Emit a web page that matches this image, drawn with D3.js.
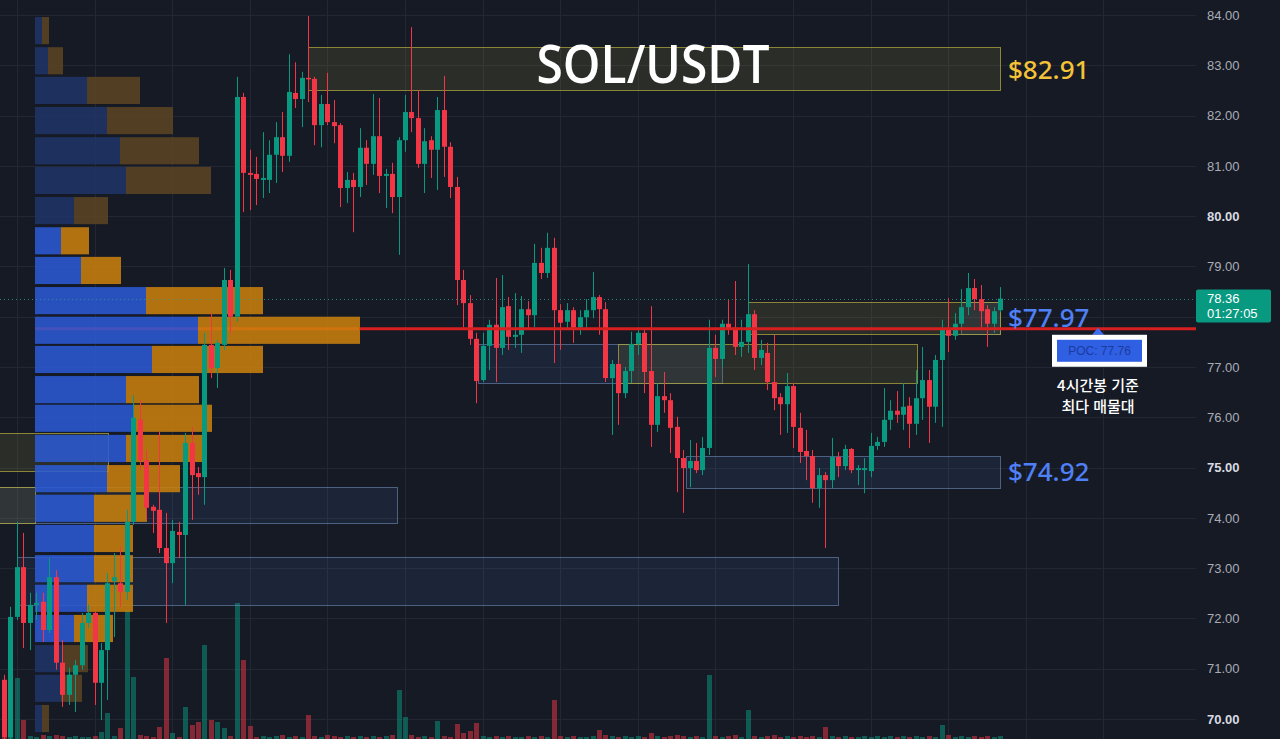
<!DOCTYPE html>
<html lang="ko">
<head>
<meta charset="UTF-8">
<title>SOL/USDT</title>
<script src="https://d3js.org/d3.v7.min.js"></script>
<style>
  html, body { margin: 0; padding: 0; background: #161a25; overflow: hidden; }
  svg { display: block; }
</style>
</head>
<body>
<script>
// SOL/USDT 4h candles, volume profile and zones

var opens = [70.78,69.64,72.03,73.02,71.91,72.27,72.33,71.77,72.82,71.12,
  70.48,70.88,71.07,71.91,72.11,70.72,71.37,72.74,72.70,72.53,
  73.92,75.95,75.15,74.22,74.16,73.40,73.10,73.72,73.66,75.49,
  74.89,74.81,77.44,76.98,77.44,78.73,78.00,82.37,80.86,80.84,
  80.72,80.72,81.22,81.57,81.20,82.45,82.33,82.75,82.73,81.81,
  82.23,81.87,81.81,80.56,80.72,80.58,81.36,81.04,81.59,80.80,
  80.84,80.38,81.51,82.07,81.95,81.04,81.51,81.32,82.11,81.38,
  80.58,78.73,78.27,77.56,76.74,77.42,77.84,77.38,78.21,77.60,
  77.64,78.15,78.03,79.07,78.87,79.37,78.13,77.90,78.13,77.79,
  77.99,78.13,78.39,78.15,76.78,77.06,76.48,76.92,77.46,77.68,
  76.92,75.85,76.42,76.34,75.81,75.19,74.99,75.13,74.95,75.39,
  77.38,77.16,77.86,77.78,77.40,77.50,78.05,77.18,77.28,76.70,
  76.40,76.26,76.62,75.79,75.33,75.23,74.59,74.85,74.75,75.21,
  75.03,75.37,74.95,74.95,74.93,75.43,75.51,75.95,76.13,76.05,
  76.23,75.87,76.38,76.74,76.21,77.14,77.76,77.62,77.86,78.19,
  78.57,78.35,78.15,77.86,78.13];

var highs = [70.88,72.23,73.92,73.70,72.51,72.51,72.51,73.20,72.96,71.57,
  71.02,71.17,72.11,72.27,72.13,71.51,72.90,73.30,73.42,74.16,
  76.44,76.34,75.35,74.26,75.71,74.10,73.96,73.92,75.69,75.81,
  75.01,77.68,78.07,77.54,78.97,78.93,82.77,82.45,81.32,81.18,
  81.67,81.51,81.87,82.07,83.22,83.06,82.87,83.98,82.77,82.41,
  82.85,82.31,81.85,80.88,80.86,81.75,81.51,82.43,82.35,80.94,
  81.06,81.57,82.41,83.76,82.51,81.75,81.59,82.37,82.79,81.47,
  80.78,78.93,78.43,77.68,77.68,77.94,78.77,78.83,78.39,78.47,
  78.41,78.31,79.45,79.37,79.67,79.57,78.25,78.27,78.19,78.13,
  78.35,78.89,78.43,78.29,77.14,77.14,77.00,77.70,77.74,77.74,
  78.21,76.68,76.90,76.48,76.01,75.35,75.55,75.49,75.61,77.94,
  77.64,77.94,78.33,78.71,77.94,79.05,78.13,77.54,77.48,77.64,
  76.48,76.88,76.68,76.09,75.75,75.35,74.99,74.91,75.59,75.31,
  75.45,75.39,75.05,75.19,75.69,75.61,76.58,76.34,76.52,76.68,
  76.40,76.94,77.40,76.94,77.24,77.94,78.37,78.07,78.55,78.87,
  78.75,78.63,78.23,78.19,78.59];

var lows = [69.60,69.60,71.97,71.41,71.37,71.97,71.53,71.71,70.98,70.24,
  70.28,70.14,70.98,71.81,70.28,69.98,70.38,71.63,72.23,72.37,
  73.86,74.95,73.96,73.70,73.30,71.91,72.70,73.20,72.27,73.96,
  74.46,74.26,76.78,76.58,77.34,77.68,77.90,80.08,80.12,80.22,
  80.36,80.46,80.66,80.88,81.08,82.15,81.77,82.27,81.41,81.37,
  81.81,81.45,80.18,80.26,79.68,80.38,80.62,80.82,80.46,80.16,
  80.06,79.23,81.28,81.67,80.96,80.46,80.76,80.52,80.78,80.36,
  78.23,77.79,77.44,76.28,76.70,76.94,76.70,77.24,77.34,77.38,
  77.28,77.74,77.79,78.75,78.77,77.08,77.34,77.74,77.48,77.64,
  77.78,77.97,77.64,76.70,75.65,75.85,76.38,76.68,77.24,76.48,
  75.41,75.71,76.09,75.29,74.51,74.10,74.61,74.89,74.85,75.25,
  76.80,77.00,77.64,77.24,77.20,77.28,76.94,77.04,76.54,76.14,
  75.65,75.69,75.39,75.09,74.75,74.30,74.20,73.40,74.59,74.81,
  74.95,74.89,74.65,74.49,74.81,75.35,75.41,75.75,75.89,75.75,
  75.39,75.65,75.95,75.49,75.89,75.81,77.30,77.54,77.74,78.03,
  78.13,77.78,77.40,77.68,78.09];

var closes = [69.64,72.03,73.02,71.91,72.27,72.31,71.77,72.82,71.12,70.48,
  70.88,71.07,71.91,72.11,70.72,71.37,72.70,72.82,72.53,73.92,
  75.99,75.15,74.20,74.14,73.40,73.10,73.74,73.66,75.49,74.85,
  74.81,77.44,76.98,77.48,78.73,78.00,82.37,80.86,80.82,80.74,
  80.76,81.22,81.57,81.20,82.47,82.33,82.75,82.73,81.81,82.23,
  81.87,81.79,80.56,80.72,80.58,81.36,81.04,81.59,80.80,80.84,
  80.38,81.51,82.07,81.95,81.04,81.49,81.32,82.11,81.38,80.58,
  78.73,78.27,77.56,76.72,77.42,77.84,77.38,78.19,77.60,77.64,
  78.15,78.03,79.07,78.87,79.37,78.13,77.88,78.13,77.78,77.99,
  78.13,78.39,78.15,76.78,77.06,76.48,76.92,77.46,77.68,76.90,
  75.85,76.42,76.34,75.79,75.19,74.99,75.13,74.95,75.39,77.38,
  77.16,77.86,77.74,77.40,77.50,78.05,77.18,77.34,76.70,76.38,
  76.26,76.62,75.81,75.31,75.23,74.59,74.85,74.75,75.21,75.03,
  75.37,74.95,74.99,74.99,75.43,75.51,75.95,76.13,76.05,76.21,
  75.87,76.38,76.74,76.21,77.14,77.76,77.62,77.86,78.19,78.57,
  78.35,78.11,77.86,78.11,78.36];

var volumes = [34,5,61,19,3,2,4,3,4,3,
  2,3,2,2,3,7,26,3,11,129,
  62,4,3,2,12,81,6,2,32,14,
  17,94,19,17,11,3,136,79,13,2,
  3,2,3,4,2,3,2,24,3,2,
  4,3,2,3,2,3,2,3,2,3,
  4,49,22,4,2,3,2,18,3,2,
  15,6,8,16,3,2,3,2,3,2,
  2,3,2,3,2,39,3,2,3,2,
  2,3,9,4,3,2,3,2,3,2,
  6,3,2,3,4,3,2,3,2,64,
  3,2,3,4,2,29,3,2,3,4,
  2,3,2,3,2,3,2,12,3,2,
  3,2,2,3,2,3,2,3,2,3,
  2,3,2,3,2,14,4,2,3,2,
  3,2,3,2,3];

// volume profile rows (top price of each row)
var profileRowTop = [83.96,83.36,82.77,82.17,81.57,80.98,80.38,79.78,79.19,78.59,
  78.00,77.42,76.82,76.25,75.65,75.05,74.46,73.86,73.26,72.67,72.07,71.47,70.88,70.28];
var profileBuy  = [7,13,52,72,85,91,39,26,46,111,163,117,91,98,91,72,59,59,59,52,39,27,26,7];
var profileSell = [7,15,53,66,79,85,34,28,40,117,162,111,73,79,76,73,53,39,39,46,39,26,21,7];
var valueAreaRows = [7, 20]; // first and last row inside value area
var rowThickness = 0.54;

var pocPrice = 77.76;
var lastPrice = 78.36;
var countdown = '01:27:05';

// zones: candle index range and price range
var supplyZones = [
  {from: 47, to: 154, hi: 83.36, lo: 82.51},
  {from: 115, to: 154, hi: 78.29, lo: 77.66},
  {from: 95, to: 141.2, hi: 77.46, lo: 76.68},
  {from: -0.7, to: 16.1, hi: 75.69, lo: 74.93},
  {from: -0.7, to: 4.8, hi: 74.61, lo: 73.90}
];
var demandZones = [
  {from: 73.3, to: 111, hi: 77.46, lo: 76.68},
  {from: 105.4, to: 154, hi: 75.23, lo: 74.59},
  {from: -0.7, to: 60.9, hi: 74.61, lo: 73.90},
  {from: 2, to: 128.9, hi: 73.22, lo: 72.27},
  {from: 148, to: 154, hi: 78.29, lo: 77.66}
];
var zoneLabels = [
  {price: 82.91, color: '#f3c237'},
  {price: 77.97, color: '#4f80f5'},
  {price: 74.92, color: '#4f80f5'}
];

var priceTicks = [70,71,72,73,74,75,76,77,78,79,80,81,82,83,84];
var dayGrid = [2,14,26,38,50,62,74,86,98,110,122,134,146,158,170];

// ---------------------------------------------------------------
var width = 1280, height = 739, plotRight = 1196;
var up = '#089981', down = '#f23645';

var x = d3.scaleLinear().domain([0, 154]).range([4, 1000]);
var y = d3.scaleLinear().domain([70, 84]).range([719, 15]);
var yVol = d3.scaleLinear().domain([0, 150]).range([739, 589]);
var xProf = d3.scaleLinear().domain([0, 330]).range([35, 365]);

var svg = d3.select('body').append('svg')
  .attr('width', width).attr('height', height)
  .style('font-family', '"Liberation Sans", Arial, sans-serif');

svg.append('rect').attr('width', width).attr('height', height).attr('fill', '#161a25');

// grid
var grid = svg.append('g').attr('stroke', '#232734').attr('stroke-width', 1);
grid.selectAll('line.h').data(priceTicks).enter().append('line')
  .attr('x1', 0).attr('x2', plotRight)
  .attr('y1', function (d) { return Math.round(y(d)) + 0.5; })
  .attr('y2', function (d) { return Math.round(y(d)) + 0.5; });
grid.selectAll('line.v').data(dayGrid).enter().append('line')
  .attr('y1', 0).attr('y2', height)
  .attr('x1', function (d) { return Math.round(x(d)) + 0.5; })
  .attr('x2', function (d) { return Math.round(x(d)) + 0.5; });

var candles = opens.map(function (o, i) {
  return {i: i, o: o, h: highs[i], l: lows[i], c: closes[i], v: volumes[i]};
});

// volume
svg.append('g').selectAll('rect').data(candles).enter().append('rect')
  .attr('x', function (d) { return Math.round(x(d.i)) - 2; })
  .attr('width', 5)
  .attr('y', function (d) { return yVol(d.v); })
  .attr('height', function (d) { return yVol(0) - yVol(d.v); })
  .attr('fill', function (d) { return d.c >= d.o ? up : down; })
  .attr('opacity', 0.5);

// zones (drawn under the profile)
function drawZones(list, fill, stroke) {
  svg.append('g').selectAll('rect').data(list).enter().append('rect')
    .attr('x', function (d) { return Math.round(x(d.from)) + 0.5; })
    .attr('y', function (d) { return Math.round(y(d.hi)) + 0.5; })
    .attr('width', function (d) { return Math.round(x(d.to) - x(d.from)); })
    .attr('height', function (d) { return Math.round(y(d.lo) - y(d.hi)); })
    .attr('fill', fill)
    .attr('stroke', stroke)
    .attr('stroke-width', 1);
}
drawZones(demandZones, 'rgba(70,120,190,0.12)', 'rgba(120,150,200,0.55)');
drawZones(supplyZones, 'rgba(150,145,60,0.17)', 'rgba(175,168,60,0.75)');

// POC line under the profile
svg.append('line')
  .attr('x1', xProf(0)).attr('x2', x(55))
  .attr('y1', y(pocPrice)).attr('y2', y(pocPrice))
  .attr('stroke', '#e0201c').attr('stroke-width', 3);

// volume profile
var rows = profileRowTop.map(function (p, i) {
  var inVA = i >= valueAreaRows[0] && i <= valueAreaRows[1];
  return {top: p, buy: profileBuy[i], sell: profileSell[i], va: inVA};
});
var prof = svg.append('g');
prof.selectAll('rect.buy').data(rows).enter().append('rect')
  .attr('x', xProf(0))
  .attr('y', function (d) { return y(d.top); })
  .attr('height', function (d) { return y(d.top - rowThickness) - y(d.top); })
  .attr('width', function (d) { return xProf(d.buy) - xProf(0); })
  .attr('fill', function (d) { return d.va ? '#2b5bd6' : '#1f3668'; })
  .attr('opacity', 0.86);
prof.selectAll('rect.sell').data(rows).enter().append('rect')
  .attr('x', function (d) { return xProf(d.buy); })
  .attr('y', function (d) { return y(d.top); })
  .attr('height', function (d) { return y(d.top - rowThickness) - y(d.top); })
  .attr('width', function (d) { return xProf(d.sell) - xProf(0); })
  .attr('fill', function (d) { return d.va ? '#cc810d' : '#5c4522'; })
  .attr('opacity', 0.86);

// last price dotted line
svg.append('line')
  .attr('x1', 0).attr('x2', plotRight)
  .attr('y1', Math.round(y(lastPrice)) + 0.5).attr('y2', Math.round(y(lastPrice)) + 0.5)
  .attr('stroke', '#2a9d90').attr('stroke-width', 1)
  .attr('stroke-dasharray', '1,3').attr('opacity', 0.8);

// candles
var cg = svg.append('g').selectAll('g').data(candles).enter().append('g');
cg.append('line')
  .attr('x1', function (d) { return Math.round(x(d.i)) + 0.5; })
  .attr('x2', function (d) { return Math.round(x(d.i)) + 0.5; })
  .attr('y1', function (d) { return y(d.h); })
  .attr('y2', function (d) { return y(d.l); })
  .attr('stroke', function (d) { return d.c >= d.o ? up : down; })
  .attr('stroke-width', 1);
cg.append('rect')
  .attr('x', function (d) { return Math.round(x(d.i)) - 2; })
  .attr('width', 5)
  .attr('y', function (d) { return y(Math.max(d.o, d.c)); })
  .attr('height', function (d) { return Math.max(1.5, Math.abs(y(d.o) - y(d.c))); })
  .attr('fill', function (d) { return d.c >= d.o ? up : down; });

// POC line over the chart
svg.append('line')
  .attr('x1', x(55)).attr('x2', plotRight)
  .attr('y1', y(pocPrice)).attr('y2', y(pocPrice))
  .attr('stroke', '#d61f1f').attr('stroke-width', 3);

// title
svg.append('text')
  .attr('x', 653).attr('y', 83)
  .attr('text-anchor', 'middle')
  .attr('fill', '#ffffff')
  .attr('font-family', '"Open Sans", "Noto Sans", sans-serif')
  .attr('font-size', 53)
  .attr('font-weight', 600)
  .attr('textLength', 233)
  .attr('lengthAdjust', 'spacingAndGlyphs')
  .text('SOL/USDT');

// zone price labels
svg.append('g').selectAll('text').data(zoneLabels).enter().append('text')
  .attr('x', 1008)
  .attr('y', function (d) { return y(d.price) + 9; })
  .attr('fill', function (d) { return d.color; })
  .attr('font-family', '"Noto Sans", "Open Sans", sans-serif')
  .attr('font-size', 26)
  .attr('font-weight', 500)
  .text(function (d) { return '$' + d.price.toFixed(2); });

// POC badge
var pocY = y(pocPrice);
svg.append('path')
  .attr('d', 'M1092,' + (pocY + 6) + ' L1098,' + (pocY - 1) + ' L1104,' + (pocY + 6) + ' Z')
  .attr('fill', '#3d6df0');
svg.append('rect').attr('x', 1052).attr('y', pocY + 6).attr('width', 95).attr('height', 32)
  .attr('fill', '#ffffff');
svg.append('rect').attr('x', 1057).attr('y', pocY + 11).attr('width', 85).attr('height', 22)
  .attr('fill', '#2f5fe3');
svg.append('text')
  .attr('x', 1099.5).attr('y', pocY + 26.5)
  .attr('text-anchor', 'middle')
  .attr('fill', '#1b3c9e')
  .attr('font-size', 12)
  .text('POC: ' + pocPrice.toFixed(2));
var noteLines = ['4시간봉 기준', '최다 매물대'];
svg.append('g').selectAll('text').data(noteLines).enter().append('text')
  .attr('x', 1098)
  .attr('y', function (d, i) { return pocY + 62 + i * 21; })
  .attr('text-anchor', 'middle').attr('fill', '#ffffff')
  .attr('font-family', '"Noto Sans CJK KR", sans-serif')
  .attr('font-size', 15).attr('font-weight', 500)
  .text(function (d) { return d; });

// price axis (label under the last price badge is hidden, as on the chart)
var axisTicks = priceTicks.filter(function (d) { return Math.abs(d - lastPrice) > 0.5; });
var axisG = svg.append('g').attr('transform', 'translate(1207,0)');
var yAxis = d3.axisRight(y).tickValues(axisTicks).tickSize(0).tickPadding(0)
  .tickFormat(d3.format('.2f'));
axisG.call(yAxis);
axisG.select('.domain').remove();
axisG.selectAll('text')
  .attr('font-size', 13)
  .attr('font-family', '"Liberation Sans", Arial, sans-serif')
  .attr('fill', function (d) { return d % 5 === 0 ? '#d8dbe2' : '#a9acb5'; })
  .attr('font-weight', function (d) { return d % 5 === 0 ? 'bold' : 'normal'; });

// last price badge
var lpY = y(lastPrice);
svg.append('rect').attr('x', 1196).attr('y', lpY - 9).attr('width', 75).attr('height', 33)
  .attr('rx', 2).attr('fill', '#089981');
svg.append('text').attr('x', 1207).attr('y', lpY + 4)
  .attr('fill', '#ffffff').attr('font-size', 13).text(lastPrice.toFixed(2));
svg.append('text').attr('x', 1207).attr('y', lpY + 19)
  .attr('fill', '#ffffff').attr('font-size', 13).text(countdown);
</script>
</body>
</html>
